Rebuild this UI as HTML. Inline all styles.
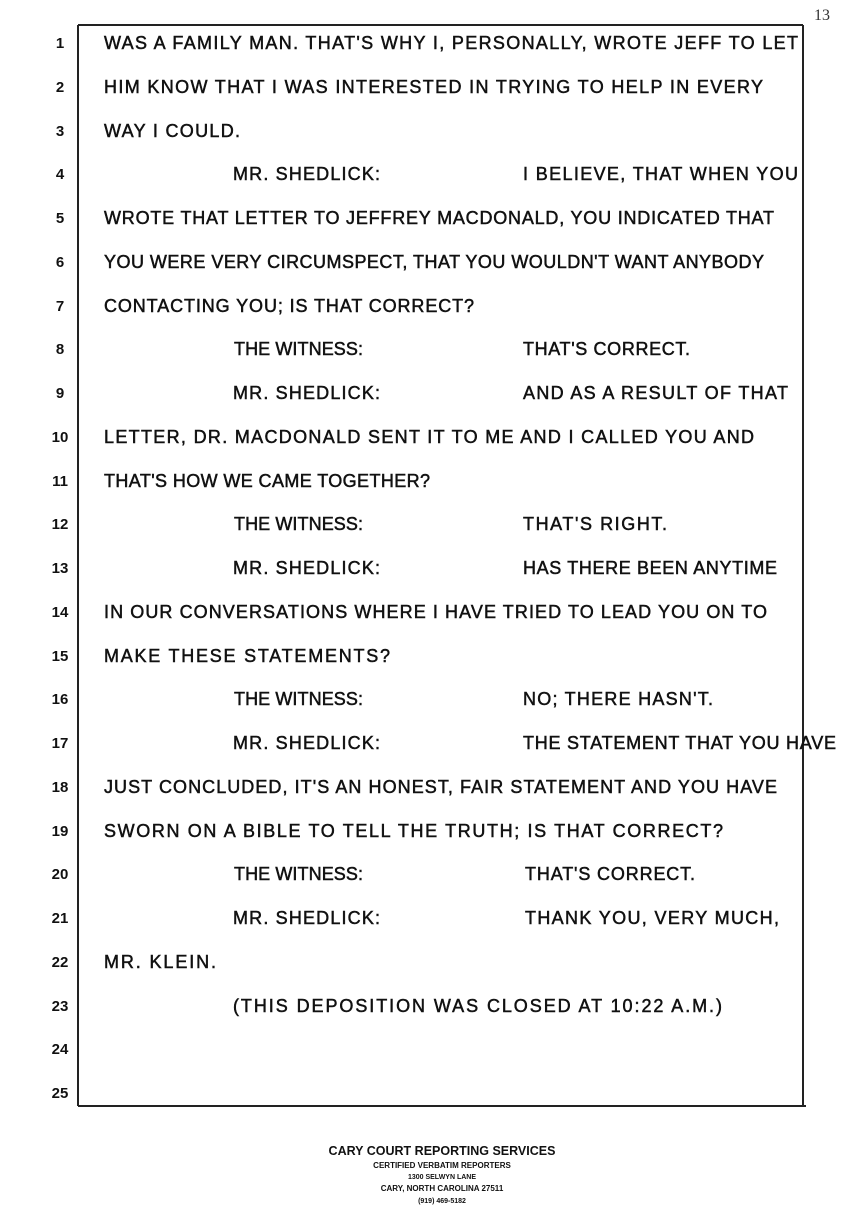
<!DOCTYPE html>
<html><head><meta charset="utf-8"><style>
html,body{margin:0;padding:0;background:#fff;width:860px;height:1228px;overflow:hidden}
svg{display:block}
.t{font-family:"Liberation Sans",sans-serif;font-size:18px;fill:#111;stroke:#111;stroke-width:0.5}
.n{font-family:"Liberation Sans",sans-serif;font-size:15px;font-weight:bold;fill:#111;text-anchor:middle}
.f{font-family:"Liberation Sans",sans-serif;font-weight:bold;fill:#111;text-anchor:middle}
</style></head><body>
<svg width="860" height="1228" viewBox="0 0 860 1228" xmlns="http://www.w3.org/2000/svg">
<g stroke="#222" stroke-width="2" fill="none">
<line x1="78" y1="25" x2="803" y2="25"/>
<line x1="78" y1="25" x2="78" y2="1106"/>
<line x1="803" y1="25" x2="803" y2="1106"/>
<line x1="78" y1="1106" x2="806" y2="1106"/>
</g>
<text x="814" y="20" font-family="Liberation Serif" font-size="16" fill="#333">13</text>
<g class="n">
<text x="60" y="48">1</text><text x="60" y="92">2</text><text x="60" y="136">3</text><text x="60" y="179">4</text><text x="60" y="223">5</text><text x="60" y="267">6</text><text x="60" y="311">7</text><text x="60" y="354">8</text><text x="60" y="398">9</text><text x="60" y="442">10</text><text x="60" y="486">11</text><text x="60" y="529">12</text><text x="60" y="573">13</text><text x="60" y="617">14</text><text x="60" y="661">15</text><text x="60" y="704">16</text><text x="60" y="748">17</text><text x="60" y="792">18</text><text x="60" y="836">19</text><text x="60" y="879">20</text><text x="60" y="923">21</text><text x="60" y="967">22</text><text x="60" y="1011">23</text><text x="60" y="1054">24</text><text x="60" y="1098">25</text>
</g>
<g class="t" lengthAdjust="spacingAndGlyphs">
<text x="104" y="49" textLength="694">WAS A FAMILY MAN.  THAT'S WHY I, PERSONALLY, WROTE JEFF TO LET</text>
<text x="104" y="93" textLength="659">HIM KNOW THAT I WAS INTERESTED IN TRYING TO HELP IN EVERY</text>
<text x="104" y="137" textLength="136">WAY I COULD.</text>
<text x="233" y="180" textLength="147">MR. SHEDLICK:</text><text x="523" y="180" textLength="275">I BELIEVE, THAT WHEN YOU</text>
<text x="104" y="224" textLength="670">WROTE THAT LETTER TO JEFFREY MACDONALD, YOU INDICATED THAT</text>
<text x="104" y="268" textLength="660">YOU WERE VERY CIRCUMSPECT, THAT YOU WOULDN'T WANT ANYBODY</text>
<text x="104" y="312" textLength="370">CONTACTING YOU; IS THAT CORRECT?</text>
<text x="234" y="355" textLength="129">THE WITNESS:</text><text x="523" y="355" textLength="167">THAT'S CORRECT.</text>
<text x="233" y="399" textLength="147">MR. SHEDLICK:</text><text x="523" y="399" textLength="265">AND AS A RESULT OF THAT</text>
<text x="104" y="443" textLength="650">LETTER, DR. MACDONALD SENT IT TO ME AND I CALLED YOU AND</text>
<text x="104" y="487" textLength="326">THAT'S HOW WE CAME TOGETHER?</text>
<text x="234" y="530" textLength="129">THE WITNESS:</text><text x="523" y="530" textLength="144">THAT'S RIGHT.</text>
<text x="233" y="574" textLength="147">MR. SHEDLICK:</text><text x="523" y="574" textLength="254">HAS THERE BEEN ANYTIME</text>
<text x="104" y="618" textLength="663">IN OUR CONVERSATIONS WHERE I HAVE TRIED TO LEAD YOU ON TO</text>
<text x="104" y="662" textLength="286">MAKE THESE STATEMENTS?</text>
<text x="234" y="705" textLength="129">THE WITNESS:</text><text x="523" y="705" textLength="190">NO; THERE HASN'T.</text>
<text x="233" y="749" textLength="147">MR. SHEDLICK:</text><text x="523" y="749" textLength="313">THE STATEMENT THAT YOU HAVE</text>
<text x="104" y="793" textLength="673">JUST CONCLUDED, IT'S AN HONEST, FAIR STATEMENT AND YOU HAVE</text>
<text x="104" y="837" textLength="619">SWORN ON A BIBLE TO TELL THE TRUTH; IS THAT CORRECT?</text>
<text x="234" y="880" textLength="129">THE WITNESS:</text><text x="525" y="880" textLength="170">THAT'S CORRECT.</text>
<text x="233" y="924" textLength="147">MR. SHEDLICK:</text><text x="525" y="924" textLength="254">THANK YOU, VERY MUCH,</text>
<text x="104" y="968" textLength="112">MR. KLEIN.</text>
<text x="233" y="1012" textLength="489">(THIS DEPOSITION WAS CLOSED AT 10:22 A.M.)</text>
</g>
<text class="f" x="442" y="1155" font-size="12.5">CARY COURT REPORTING SERVICES</text>
<text class="f" x="442" y="1168" font-size="8">CERTIFIED VERBATIM REPORTERS</text>
<text class="f" x="442" y="1179" font-size="7">1300 SELWYN LANE</text>
<text class="f" x="442" y="1191" font-size="8">CARY, NORTH CAROLINA   27511</text>
<text class="f" x="442" y="1203" font-size="7">(919) 469-5182</text>
</svg>
</body></html>
